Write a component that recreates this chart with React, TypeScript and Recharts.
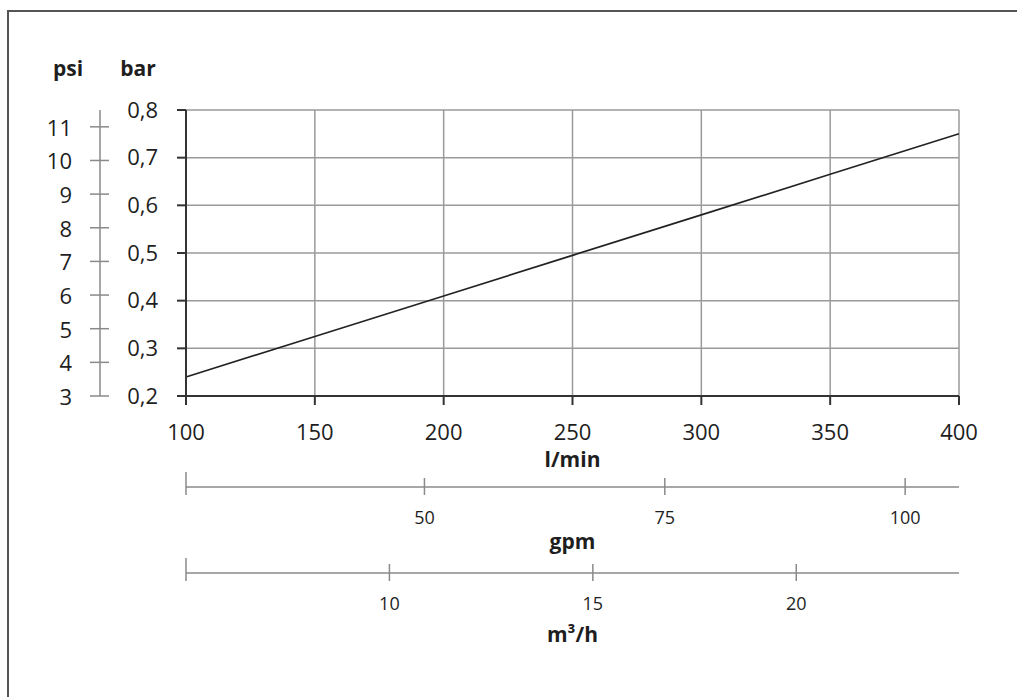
import React from 'react'
import { CartesianGrid, ComposedChart, Label, Line, XAxis, YAxis } from 'recharts'

// flow in l/min against pressure drop in bar
const flowLmin = [100, 150, 200, 250, 300, 350, 400]
const pressureBar = [0.24, 0.325, 0.41, 0.495, 0.58, 0.665, 0.75]

const lminTicks = [100, 150, 200, 250, 300, 350, 400]
const barTicks = [0.2, 0.3, 0.4, 0.5, 0.6, 0.7, 0.8]
const psiTicks = [3, 4, 5, 6, 7, 8, 9, 10, 11]
const gpmTicks = [25.2, 50, 75, 100]
const gpmLabels = ['', '50', '75', '100']
const m3hTicks = [5, 10, 15, 20]
const m3hLabels = ['', '10', '15', '20']

const data = flowLmin.map((q, i) => ({ q, p: pressureBar[i] }))
// the secondary flow axes get their own (invisible) series so recharts builds their scales
const gpmData = gpmTicks.map((v) => ({ v }))
const m3hData = m3hTicks.map((v) => ({ v }))

const FONT = '"Open Sans", sans-serif'
const TEXT = '#1e1e1e'

const PsiTick = (props: any) => {
  const { x, y, payload } = props
  const axisX = x + 28
  return (
    <g>
      <line x1={axisX - 10} x2={axisX + 9} y1={y} y2={y} stroke="#8a8a8a" strokeWidth={1.5} />
      <text x={x} y={y + 9} textAnchor="end" fontSize={22} fill={TEXT} fontFamily={FONT}>
        {payload.value}
      </text>
    </g>
  )
}

const makeFlowTick = (ticks: number[], labels: string[]) => (props: any) => {
  const { x, y, payload } = props
  const idx = ticks.indexOf(payload.value)
  const first = idx === 0
  return (
    <g>
      <line x1={x} x2={x} y1={y - (first ? 15 : 9)} y2={y + 8} stroke="#8a8a8a" strokeWidth={1.5} />
      <text x={x} y={y + 37} textAnchor="middle" fontSize={18} fill={TEXT} fontFamily={FONT}>
        {labels[idx]}
      </text>
    </g>
  )
}

const GpmTick = makeFlowTick(gpmTicks, gpmLabels)
const M3hTick = makeFlowTick(m3hTicks, m3hLabels)

const axisTitle = (text: string, fromRight: number) => (props: any) => {
  const vb = props.viewBox || {}
  return (
    <text
      x={vb.x + vb.width - fromRight}
      y={76}
      textAnchor="middle"
      fontSize={21}
      fontWeight="bold"
      fill={TEXT}
      fontFamily={FONT}
    >
      {text}
    </text>
  )
}

export default function App() {
  return (
    <div style={{ position: 'fixed', inset: 0, background: '#fff', fontFamily: FONT }}>
      <div
        style={{
          position: 'absolute',
          left: 7,
          top: 10,
          right: 0,
          bottom: 0,
          borderTop: '2px solid #555',
          borderLeft: '2px solid #555',
        }}
      />
      <ComposedChart
        width={1017}
        height={697}
        data={data}
        margin={{ top: 110, right: 58, left: 10, bottom: 44 }}
        style={{ position: 'absolute', left: 0, top: 0 }}
      >
        <CartesianGrid xAxisId="a_lmin" yAxisId="a_bar" stroke="#9a9a9a" strokeWidth={1.5} />
        <XAxis
          xAxisId="a_lmin"
          dataKey="q"
          type="number"
          domain={[100, 400]}
          ticks={lminTicks}
          interval={0}
          height={91}
          tickSize={9}
          tickMargin={19}
          tick={{ fill: TEXT, fontSize: 22, fontFamily: FONT }}
          axisLine={{ stroke: '#333', strokeWidth: 2 }}
          tickLine={{ stroke: '#333', strokeWidth: 2 }}
        >
          <Label value="l/min" position="insideBottom" offset={20} fontSize={21} fontWeight="bold" fill={TEXT} />
        </XAxis>
        <XAxis
          xAxisId="b_gpm"
          dataKey="v"
          type="number"
          domain={[25.2, 105.6]}
          ticks={gpmTicks}
          interval={0}
          height={86}
          tickSize={0}
          tickMargin={0}
          tickLine={false}
          tick={GpmTick}
          axisLine={{ stroke: '#8a8a8a', strokeWidth: 1.5 }}
          allowDataOverflow
        >
          <Label value="gpm" position="insideBottom" offset={24} fontSize={21} fontWeight="bold" fill={TEXT} />
        </XAxis>
        <XAxis
          xAxisId="c_m3h"
          dataKey="v"
          type="number"
          domain={[5, 24]}
          ticks={m3hTicks}
          interval={0}
          height={80}
          tickSize={0}
          tickMargin={0}
          tickLine={false}
          tick={M3hTick}
          axisLine={{ stroke: '#8a8a8a', strokeWidth: 1.5 }}
          allowDataOverflow
        >
          <Label value="m³/h" position="insideBottom" offset={11} fontSize={21} fontWeight="bold" fill={TEXT} />
        </XAxis>
        <YAxis
          yAxisId="a_bar"
          type="number"
          domain={[0.2, 0.8]}
          ticks={barTicks}
          interval={0}
          width={86}
          tickSize={9}
          tickMargin={19}
          tickFormatter={(v: number) => v.toFixed(1).replace('.', ',')}
          tick={{ fill: TEXT, fontSize: 22, fontFamily: FONT }}
          axisLine={{ stroke: '#333', strokeWidth: 2 }}
          tickLine={{ stroke: '#333', strokeWidth: 2 }}
        >
          <Label content={axisTitle('bar', 48)} />
        </YAxis>
        <YAxis
          yAxisId="b_psi"
          type="number"
          domain={[3, 11.5]}
          ticks={psiTicks}
          interval={0}
          width={90}
          tickSize={0}
          tickMargin={28}
          tickLine={false}
          tick={PsiTick}
          axisLine={{ stroke: '#8a8a8a', strokeWidth: 1.5 }}
          allowDataOverflow
        >
          <Label content={axisTitle('psi', 32)} />
        </YAxis>
        <Line
          xAxisId="a_lmin"
          yAxisId="a_bar"
          dataKey="p"
          type="linear"
          stroke="#222"
          strokeWidth={1.6}
          dot={false}
          isAnimationActive={false}
        />
        <Line
          xAxisId="b_gpm"
          yAxisId="a_bar"
          data={gpmData}
          dataKey="none"
          stroke="none"
          dot={false}
          activeDot={false}
          legendType="none"
          isAnimationActive={false}
        />
        <Line
          xAxisId="c_m3h"
          yAxisId="a_bar"
          data={m3hData}
          dataKey="none"
          stroke="none"
          dot={false}
          activeDot={false}
          legendType="none"
          isAnimationActive={false}
        />
      </ComposedChart>
    </div>
  )
}
